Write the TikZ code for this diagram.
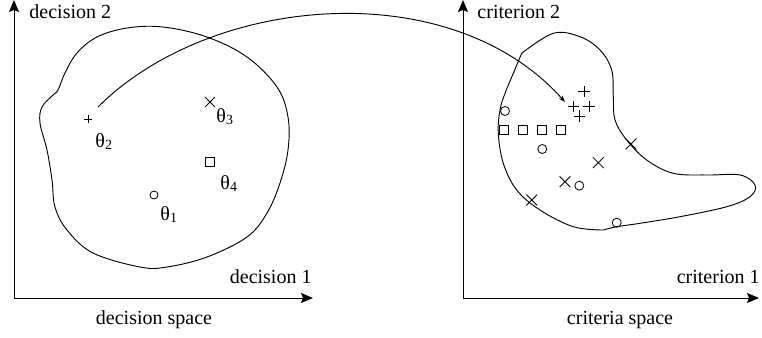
\documentclass[tikz,border=0pt]{standalone}
\usepackage{fontspec}
\setmainfont{Liberation Serif}
\usetikzlibrary{arrows.meta,shapes.misc,math}

\begin{document}
\begin{tikzpicture}[x=0.75pt,y=-0.75pt,line width=0.7pt,
  font=\fontsize{15}{18}\selectfont,
  axis/.style={-{Stealth[length=9pt,width=7.5pt,inset=1.5pt]}},
  link/.style={-{Stealth[length=5pt,width=3.5pt]}},
  lbl/.style={inner sep=0pt},
  pmk/.style={draw,cross out,rotate=45,inner sep=0pt,minimum size=#1,line width=0.6pt},
  xmk/.style={draw,cross out,inner sep=0pt,minimum size=#1,line width=0.6pt},
  omk/.style={draw,circle,inner sep=0pt,minimum size=#1,line width=0.6pt},
  smk/.style={draw,rectangle,inner sep=0pt,minimum size=#1,line width=0.6pt}]
\tikzmath{
\s=6.75pt;
}
\useasboundingbox (0,0) rectangle (762,337);

% decision space
\coordinate (dO) at (14,298);
\coordinate (dY) at (14,0);
\coordinate (dX) at (313,298);
\draw[axis] (dO) -- (dY);
\draw[axis] (dO) -- (dX);
\node[lbl,anchor=west] (dlab2) at (29,12) {decision 2};
\node[lbl,anchor=east] (dlab1) at (312,277) {decision 1};
\node (dspace) at (154,320) {decision space};

\draw plot[smooth cycle,tension=0.6] coordinates {
  (58,90) (53,95) (42,107) (40,123) (47,150) (52,180) (55,207) (67,230)
  (93,253) (140,267) (167,267) (207,257) (247,237) (267,213) (280,183)
  (288,150) (288,117) (277,87) (247,57) (207,37) (163,27) (127,28)
  (97,37) (77,53) (65,73)};

\node[omk=6pt] (t1) at (154,195) {};
\node[pmk=3.8pt] (t2) at (88,119) {};
\node[xmk=\s] (t3) at (210,102) {};
\node[smk=6.5pt] (t4) at (210,162) {};
\node[lbl,anchor=base west] (t1lab) at (160,220) {θ\textsubscript{1}};
\node[lbl,anchor=base west] (t2lab) at (95,147) {θ\textsubscript{2}};
\node[lbl,anchor=base west] (t3lab) at (216,122) {θ\textsubscript{3}};
\node[lbl,anchor=base west] (t4lab) at (220,189) {θ\textsubscript{4}};

% criteria space
\coordinate (cO) at (463,298);
\coordinate (cY) at (463,0);
\coordinate (cX) at (759,298);
\draw[axis] (cO) -- (cY);
\draw[axis] (cO) -- (cX);
\node[lbl,anchor=west] (clab2) at (477,12) {criterion 2};
\node[lbl,anchor=east] (clab1) at (760,277) {criterion 1};
\node (cspace) at (620,320) {criteria space};

\draw plot[smooth,tension=0.6] coordinates {
  (521.7,53.3) (553.3,33.3) (580,36.7) (600,50) (611.7,70) (613.3,96.7)
  (615,120) (626.7,140) (646.7,160) (673.3,173.3) (706.7,175) (740,175)
  (755,185) (750,196.7) (726.7,206.7) (680,216.7) (640,223.3)
  (616.7,226.7) (603.3,230)}
  -- plot[smooth,tension=0.6] coordinates {
  (603.3,230) (573.3,226.7) (540,210) (516.7,190) (503.3,163.3)
  (498.3,133.3) (500,110) (505,93.3) (513.3,73.3) (521.7,53.3)};

\node[pmk=5.3pt] (p1) at (584,91.7) {};
\node[pmk=5.3pt] (p2) at (573.3,106.7) {};
\node[pmk=5.3pt] (p3) at (589,106.7) {};
\node[pmk=5.3pt] (p4) at (579.3,116) {};
\node[omk=\s] (o1) at (505,111) {};
\node[omk=\s] (o2) at (542.3,149) {};
\node[omk=\s] (o3) at (579.3,185.7) {};
\node[omk=\s] (o4) at (616.7,222.7) {};
\node[smk=\s] (q1) at (504.3,130) {};
\node[smk=\s] (q2) at (523.3,130) {};
\node[smk=\s] (q3) at (541.7,130) {};
\node[smk=\s] (q4) at (560.7,130) {};
\node[xmk=7.5pt] (x1) at (631,144) {};
\node[xmk=7.5pt] (x2) at (598.3,162.7) {};
\node[xmk=7.5pt] (x3) at (565,181.7) {};
\node[xmk=7.5pt] (x4) at (531.7,200) {};

% mapping
\coordinate (from) at (98,107);
\coordinate (to) at (565,102);
\draw[link] (from) .. controls (210,-5) and (450,-27) .. (to);
\end{tikzpicture}
\end{document}
